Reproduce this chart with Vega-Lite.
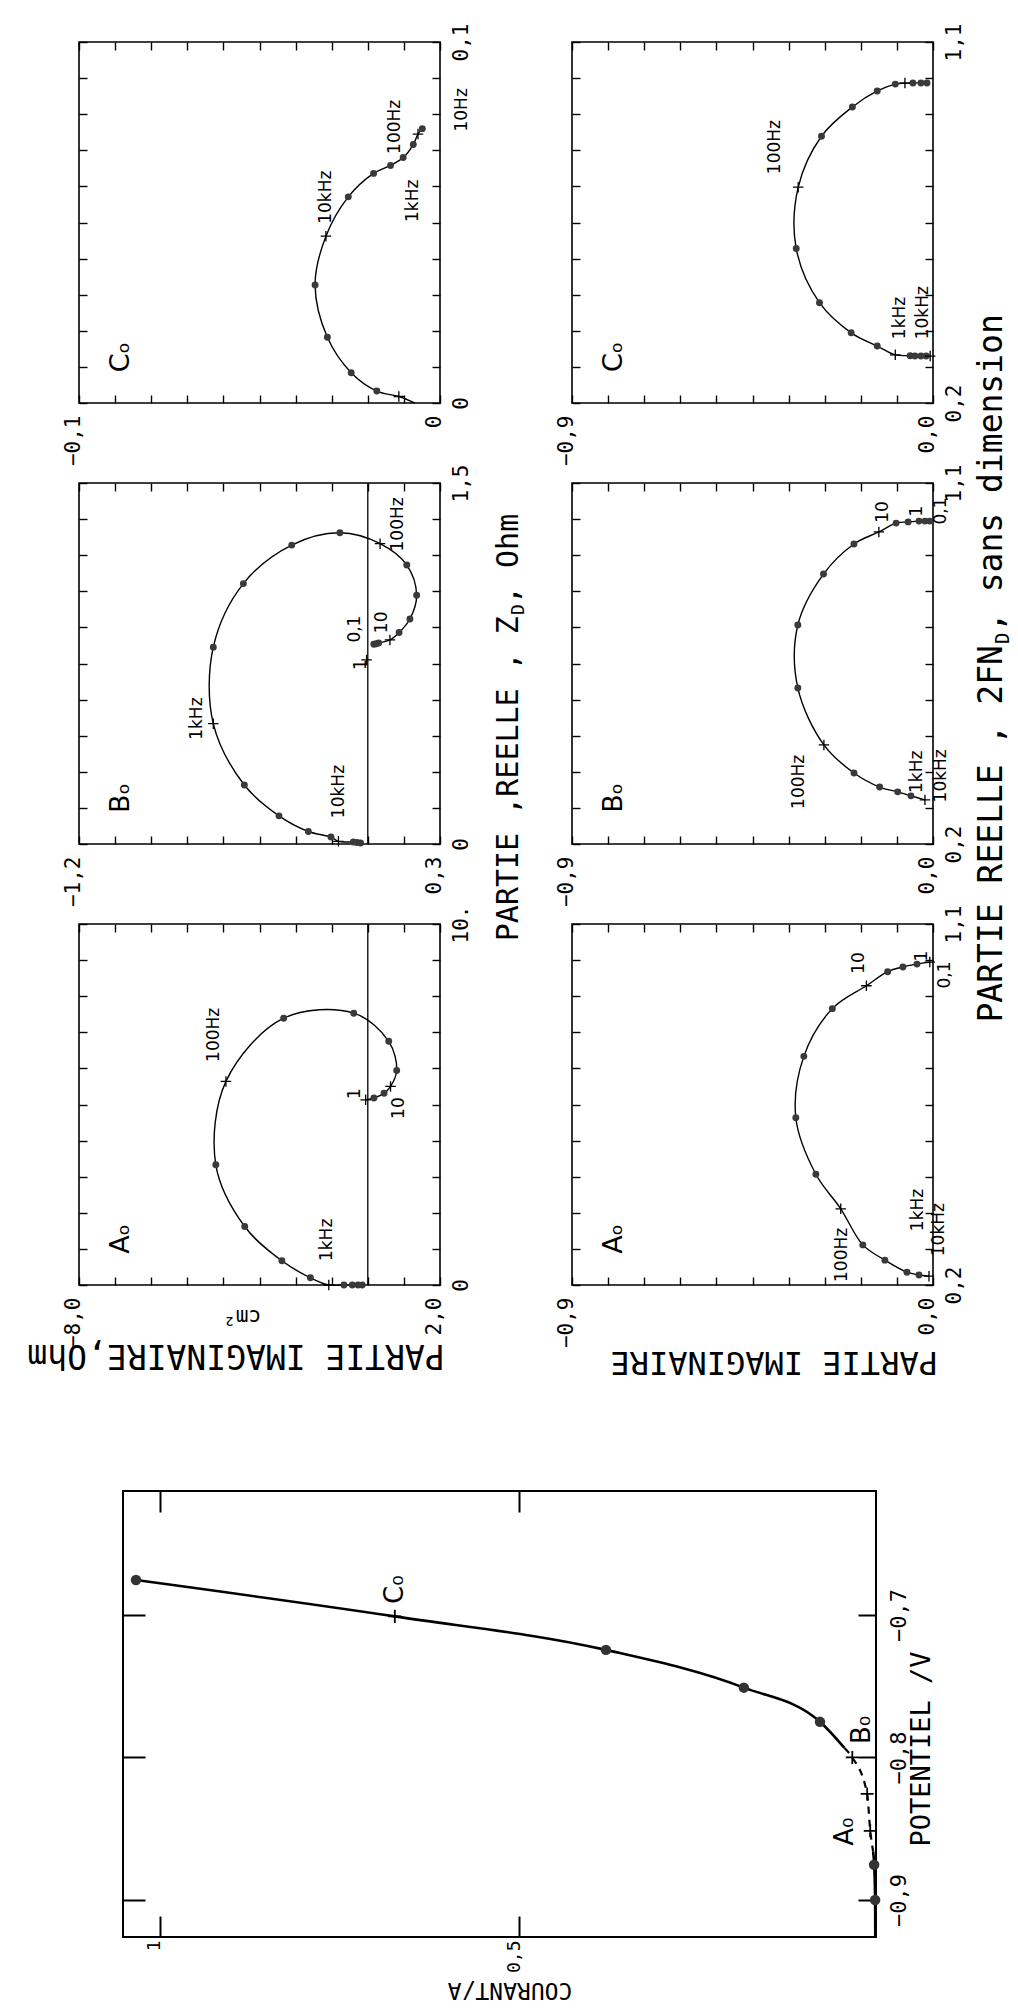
{
"$schema": "https://vega.github.io/schema/vega-lite/v6.json",
"background": "white",
"padding": {"left": 26, "top": 22, "right": 0, "bottom": 2},
"spacing": 109,
"config": {
  "view": {"stroke": "black", "strokeWidth": 1.6},
  "axis": {"domain": false, "grid": false, "tickColor": "black", "tickWidth": 1.4, "labelColor": "black", "labelFont": "DejaVu Sans Mono", "labelFontSize": 21, "labelOverlap": false, "labelFlush": false, "labelBound": false, "labelAngle": 270}
},
"datasets": {
"nyq": [
{"p":"LC","i":0,"im":-0.007,"re":0.0,"k":"none"},
{"p":"LC","i":1,"im":-0.0114,"re":0.0018,"k":"plus"},
{"p":"LC","i":2,"im":-0.0175,"re":0.0033,"k":"dot"},
{"p":"LC","i":3,"im":-0.0246,"re":0.0084,"k":"dot"},
{"p":"LC","i":4,"im":-0.0312,"re":0.0182,"k":"dot"},
{"p":"LC","i":5,"im":-0.0346,"re":0.0327,"k":"dot"},
{"p":"LC","i":6,"im":-0.0316,"re":0.0462,"k":"plus"},
{"p":"LC","i":7,"im":-0.0254,"re":0.0571,"k":"dot"},
{"p":"LC","i":8,"im":-0.0184,"re":0.0636,"k":"dot"},
{"p":"LC","i":9,"im":-0.0137,"re":0.0658,"k":"dot"},
{"p":"LC","i":10,"im":-0.0102,"re":0.068,"k":"dot"},
{"p":"LC","i":11,"im":-0.0074,"re":0.0716,"k":"dot"},
{"p":"LC","i":12,"im":-0.0061,"re":0.0745,"k":"plus"},
{"p":"LC","i":13,"im":-0.0049,"re":0.076,"k":"dot"},
{"p":"LB","i":0,"im":-0.03,"re":0.004,"k":"dot"},
{"p":"LB","i":1,"im":-0.045,"re":0.006,"k":"dot"},
{"p":"LB","i":2,"im":-0.06,"re":0.008,"k":"dot"},
{"p":"LB","i":3,"im":-0.122,"re":0.011,"k":"plus"},
{"p":"LB","i":4,"im":-0.153,"re":0.029,"k":"dot"},
{"p":"LB","i":5,"im":-0.247,"re":0.052,"k":"dot"},
{"p":"LB","i":6,"im":-0.369,"re":0.117,"k":"dot"},
{"p":"LB","i":7,"im":-0.513,"re":0.245,"k":"dot"},
{"p":"LB","i":8,"im":-0.642,"re":0.5,"k":"plus"},
{"p":"LB","i":9,"im":-0.642,"re":0.818,"k":"dot"},
{"p":"LB","i":10,"im":-0.517,"re":1.082,"k":"dot"},
{"p":"LB","i":11,"im":-0.316,"re":1.242,"k":"dot"},
{"p":"LB","i":12,"im":-0.116,"re":1.293,"k":"dot"},
{"p":"LB","i":13,"im":0.051,"re":1.248,"k":"plus"},
{"p":"LB","i":14,"im":0.162,"re":1.159,"k":"dot"},
{"p":"LB","i":15,"im":0.203,"re":1.034,"k":"dot"},
{"p":"LB","i":16,"im":0.175,"re":0.935,"k":"dot"},
{"p":"LB","i":17,"im":0.13,"re":0.879,"k":"dot"},
{"p":"LB","i":18,"im":0.092,"re":0.848,"k":"plus"},
{"p":"LB","i":19,"im":0.045,"re":0.835,"k":"dot"},
{"p":"LB","i":20,"im":0.035,"re":0.832,"k":"dot"},
{"p":"LB","i":21,"im":0.025,"re":0.83,"k":"dot"},
{"p":"LB","i":22,"im":-0.005,"re":0.765,"k":"mark"},
{"p":"LA","i":0,"im":-0.155,"re":0.0,"k":"dot"},
{"p":"LA","i":1,"im":-0.27,"re":0.0,"k":"dot"},
{"p":"LA","i":2,"im":-0.43,"re":0.0,"k":"dot"},
{"p":"LA","i":3,"im":-0.66,"re":0.0,"k":"dot"},
{"p":"LA","i":4,"im":-1.08,"re":0.0,"k":"plus"},
{"p":"LA","i":5,"im":-1.59,"re":0.2,"k":"dot"},
{"p":"LA","i":6,"im":-2.38,"re":0.67,"k":"dot"},
{"p":"LA","i":7,"im":-3.41,"re":1.62,"k":"dot"},
{"p":"LA","i":8,"im":-4.21,"re":3.33,"k":"dot"},
{"p":"LA","i":9,"im":-3.93,"re":5.64,"k":"plus"},
{"p":"LA","i":10,"im":-2.33,"re":7.39,"k":"dot"},
{"p":"LA","i":11,"im":-0.39,"re":7.53,"k":"dot"},
{"p":"LA","i":12,"im":0.58,"re":6.75,"k":"dot"},
{"p":"LA","i":13,"im":0.8,"re":5.94,"k":"dot"},
{"p":"LA","i":14,"im":0.63,"re":5.5,"k":"plus"},
{"p":"LA","i":15,"im":0.45,"re":5.31,"k":"dot"},
{"p":"LA","i":16,"im":0.17,"re":5.18,"k":"dot"},
{"p":"LA","i":17,"im":-0.06,"re":5.13,"k":"plus"},
{"p":"RC","i":0,"im":-0.007,"re":0.317,"k":"plus"},
{"p":"RC","i":1,"im":-0.017,"re":0.317,"k":"dot"},
{"p":"RC","i":2,"im":-0.03,"re":0.317,"k":"dot"},
{"p":"RC","i":3,"im":-0.045,"re":0.317,"k":"dot"},
{"p":"RC","i":4,"im":-0.057,"re":0.318,"k":"dot"},
{"p":"RC","i":5,"im":-0.094,"re":0.32,"k":"plus"},
{"p":"RC","i":6,"im":-0.139,"re":0.342,"k":"dot"},
{"p":"RC","i":7,"im":-0.204,"re":0.375,"k":"dot"},
{"p":"RC","i":8,"im":-0.283,"re":0.45,"k":"dot"},
{"p":"RC","i":9,"im":-0.341,"re":0.585,"k":"dot"},
{"p":"RC","i":10,"im":-0.336,"re":0.738,"k":"plus"},
{"p":"RC","i":11,"im":-0.278,"re":0.865,"k":"dot"},
{"p":"RC","i":12,"im":-0.201,"re":0.938,"k":"dot"},
{"p":"RC","i":13,"im":-0.139,"re":0.978,"k":"dot"},
{"p":"RC","i":14,"im":-0.094,"re":0.995,"k":"dot"},
{"p":"RC","i":15,"im":-0.07,"re":0.9975,"k":"plus"},
{"p":"RC","i":16,"im":-0.05,"re":0.998,"k":"dot"},
{"p":"RC","i":17,"im":-0.03,"re":0.998,"k":"dot"},
{"p":"RC","i":18,"im":-0.015,"re":0.998,"k":"dot"},
{"p":"RB","i":0,"im":-0.02,"re":0.31,"k":"plus"},
{"p":"RB","i":1,"im":-0.055,"re":0.32,"k":"dot"},
{"p":"RB","i":2,"im":-0.088,"re":0.33,"k":"dot"},
{"p":"RB","i":3,"im":-0.133,"re":0.342,"k":"dot"},
{"p":"RB","i":4,"im":-0.197,"re":0.377,"k":"dot"},
{"p":"RB","i":5,"im":-0.272,"re":0.447,"k":"plus"},
{"p":"RB","i":6,"im":-0.337,"re":0.589,"k":"dot"},
{"p":"RB","i":7,"im":-0.337,"re":0.746,"k":"dot"},
{"p":"RB","i":8,"im":-0.273,"re":0.873,"k":"dot"},
{"p":"RB","i":9,"im":-0.197,"re":0.948,"k":"dot"},
{"p":"RB","i":10,"im":-0.135,"re":0.978,"k":"plus"},
{"p":"RB","i":11,"im":-0.092,"re":1.0,"k":"dot"},
{"p":"RB","i":12,"im":-0.062,"re":1.003,"k":"dot"},
{"p":"RB","i":13,"im":-0.035,"re":1.005,"k":"dot"},
{"p":"RB","i":14,"im":-0.02,"re":1.005,"k":"dot"},
{"p":"RB","i":15,"im":-0.008,"re":1.005,"k":"dot"},
{"p":"RA","i":0,"im":-0.01,"re":0.222,"k":"plus"},
{"p":"RA","i":1,"im":-0.035,"re":0.225,"k":"dot"},
{"p":"RA","i":2,"im":-0.065,"re":0.232,"k":"dot"},
{"p":"RA","i":3,"im":-0.12,"re":0.262,"k":"dot"},
{"p":"RA","i":4,"im":-0.175,"re":0.3,"k":"dot"},
{"p":"RA","i":5,"im":-0.23,"re":0.39,"k":"plus"},
{"p":"RA","i":6,"im":-0.292,"re":0.476,"k":"dot"},
{"p":"RA","i":7,"im":-0.342,"re":0.617,"k":"dot"},
{"p":"RA","i":8,"im":-0.322,"re":0.77,"k":"dot"},
{"p":"RA","i":9,"im":-0.251,"re":0.889,"k":"dot"},
{"p":"RA","i":10,"im":-0.166,"re":0.946,"k":"plus"},
{"p":"RA","i":11,"im":-0.113,"re":0.981,"k":"dot"},
{"p":"RA","i":12,"im":-0.075,"re":0.993,"k":"dot"},
{"p":"RA","i":13,"im":-0.04,"re":1.0,"k":"dot"},
{"p":"RA","i":14,"im":-0.008,"re":1.005,"k":"plus"}
],
"lab": [
{"p":"LC","role":"freq","im":-0.0315,"re":0.057,"text":"10kHz"},
{"p":"LC","role":"freq","im":-0.0075,"re":0.056,"text":"1kHz"},
{"p":"LC","role":"freq","im":-0.0125,"re":0.0765,"text":"100Hz"},
{"p":"LC","role":"freq","im":0.0061,"re":0.0812,"text":"10Hz"},
{"p":"LC","role":"panel","im":-0.0884,"re":0.0127,"text":"Cₒ"},
{"p":"LB","role":"freq","im":-0.12,"re":0.218,"text":"10kHz"},
{"p":"LB","role":"freq","im":-0.711,"re":0.521,"text":"1kHz"},
{"p":"LB","role":"freq","im":0.127,"re":1.328,"text":"100Hz"},
{"p":"LB","role":"freq","im":0.058,"re":0.921,"text":"10"},
{"p":"LB","role":"freq","im":-0.053,"re":0.893,"text":"0,1"},
{"p":"LB","role":"freq","im":-0.027,"re":0.745,"text":"1"},
{"p":"LB","role":"panel","im":-1.0255,"re":0.191,"text":"Bₒ"},
{"p":"LA","role":"freq","im":-1.13,"re":1.25,"text":"1kHz"},
{"p":"LA","role":"freq","im":-4.27,"re":6.93,"text":"100Hz"},
{"p":"LA","role":"freq","im":0.86,"re":4.9,"text":"10"},
{"p":"LA","role":"freq","im":-0.36,"re":5.3,"text":"1"},
{"p":"LA","role":"panel","im":-6.837,"re":1.274,"text":"Aₒ"},
{"p":"RC","role":"freq","im":-0.393,"re":0.838,"text":"100Hz"},
{"p":"RC","role":"freq","im":-0.082,"re":0.412,"text":"1kHz"},
{"p":"RC","role":"freq","im":-0.025,"re":0.425,"text":"10kHz"},
{"p":"RC","role":"panel","im":-0.795,"re":0.315,"text":"Cₒ"},
{"p":"RB","role":"freq","im":-0.125,"re":1.028,"text":"10"},
{"p":"RB","role":"freq","im":-0.04,"re":1.03,"text":"1"},
{"p":"RB","role":"freq","im":0.02,"re":1.03,"text":"0,1"},
{"p":"RB","role":"freq","im":-0.334,"re":0.355,"text":"100Hz"},
{"p":"RB","role":"freq","im":-0.04,"re":0.38,"text":"1kHz"},
{"p":"RB","role":"freq","im":0.02,"re":0.37,"text":"10kHz"},
{"p":"RB","role":"panel","im":-0.795,"re":0.315,"text":"Bₒ"},
{"p":"RA","role":"freq","im":-0.184,"re":1.003,"text":"10"},
{"p":"RA","role":"freq","im":-0.028,"re":1.02,"text":"1"},
{"p":"RA","role":"freq","im":0.03,"re":0.973,"text":"0,1"},
{"p":"RA","role":"freq","im":-0.227,"re":0.275,"text":"100Hz"},
{"p":"RA","role":"freq","im":-0.038,"re":0.387,"text":"1kHz"},
{"p":"RA","role":"freq","im":0.015,"re":0.338,"text":"10kHz"},
{"p":"RA","role":"panel","im":-0.795,"re":0.315,"text":"Aₒ"}
],
"ttl": [
{"p":"LB","part":"main","im":0.587,"re":0.947,"text":"PARTIE ,REELLE , Z"},
{"p":"LB","part":"sub","im":0.587,"re":0.947,"text":"D"},
{"p":"LB","part":"tail","im":0.587,"re":0.947,"text":" , Ohm"},
{"p":"RB","part":"main","im":0.147,"re":0.696,"text":"PARTIE REELLE , 2FN"},
{"p":"RB","part":"sub","im":0.147,"re":0.696,"text":"D"},
{"p":"RB","part":"tail","im":0.147,"re":0.696,"text":", sans dimension"},
{"p":"LA","part":"flip","im":-3.65,"re":-1.94,"text":"PARTIE IMAGINAIRE,Ohm"},
{"p":"LA","part":"note","im":-3.48,"re":-0.86,"text":"cm²"},
{"p":"RA","part":"flip","im":-0.396,"re":0.008,"text":"PARTIE IMAGINAIRE"}
],
"iv": [
{"seg":"a","i":0,"cur":1.0334,"pot":-0.6755,"k":"dot"},
{"seg":"a","i":1,"cur":0.673,"pot":-0.701,"k":"plus"},
{"seg":"a","i":2,"cur":0.379,"pot":-0.7245,"k":"dot"},
{"seg":"a","i":3,"cur":0.187,"pot":-0.751,"k":"dot"},
{"seg":"a","i":4,"cur":0.081,"pot":-0.775,"k":"dot"},
{"seg":"a","i":5,"cur":0.047,"pot":-0.7933,"k":"none"},
{"seg":"b","i":6,"cur":0.047,"pot":-0.7933,"k":"none"},
{"seg":"b","i":7,"cur":0.036,"pot":-0.8,"k":"plus"},
{"seg":"b","i":8,"cur":0.0153,"pot":-0.8256,"k":"plus"},
{"seg":"b","i":9,"cur":0.011,"pot":-0.8515,"k":"plus"},
{"seg":"b","i":10,"cur":0.007,"pot":-0.866,"k":"none"},
{"seg":"c","i":11,"cur":0.007,"pot":-0.866,"k":"none"},
{"seg":"c","i":12,"cur":0.0056,"pot":-0.8753,"k":"dot"},
{"seg":"c","i":13,"cur":0.0042,"pot":-0.9,"k":"dot"},
{"seg":"c","i":14,"cur":0.004,"pot":-0.926,"k":"none"}
],
"ivlab": [
{"role":"pt","cur":0.673,"pot":-0.6923,"text":"C₀"},
{"role":"pt","cur":0.0224,"pot":-0.7906,"text":"B₀"},
{"role":"pt","cur":0.0461,"pot":-0.862,"text":"A₀"},
{"role":"ytitle","cur":-0.061,"pot":-0.794,"text":"POTENTIEL /V"},
{"role":"xtitle","cur":0.5126,"pot":-0.9635,"text":"COURANT/A"}
]
},
"vconcat": [
{"columns": 2, "bounds": "flush", "spacing": {"row": 80, "column": 132}, "concat": [
  {"width": 361, "height": 361,
   "resolve": {"axis": {"x": "independent", "y": "independent"}},
   "layer": [
    {"data": {"name": "nyq"}, "transform": [{"filter": "datum.p == 'LC' && datum.k != 'mark'"}],
     "mark": {"type": "line", "interpolate": "catmull-rom", "color": "black", "strokeWidth": 1.4},
     "encoding": {
      "x": {"field": "im", "type": "quantitative", "scale": {"domain": [-0.1, 0], "nice": false, "zero": false},
            "axis": {"orient": "bottom", "title": null, "values": [-0.1,-0.09,-0.08,-0.07,-0.06,-0.05,-0.04,-0.03,-0.02,-0.01,0], "tickSize": -8, "labelAlign": "right", "labelBaseline": "alphabetic", "labelPadding": 20, "labelExpr": "abs(datum.value + 0.1) < 1e-6 || abs(datum.value) < 1e-6 ? replace(format(datum.value, '.1~f'), '.', ',') : ''"}},
      "y": {"field": "re", "type": "quantitative", "scale": {"domain": [0, 0.1], "nice": false, "zero": false},
            "axis": {"orient": "right", "title": null, "values": [0,0.01,0.02,0.03,0.04,0.05,0.06,0.07,0.08,0.09,0.1], "tickSize": -8, "labelAlign": "center", "labelBaseline": "top", "labelPadding": 18, "labelExpr": "abs(datum.value - 0.1) < 1e-6 || abs(datum.value) < 1e-6 ? replace(format(datum.value, '.1~f'), '.', ',') : ''"}},
      "order": {"field": "i", "type": "quantitative"}}},
    {"data": {"name": "nyq"}, "transform": [{"filter": "datum.p == 'LC' && datum.k == 'dot'"}],
     "mark": {"type": "circle", "size": 48, "color": "#3a3a3a", "opacity": 1},
     "encoding": {
      "x": {"field": "im", "type": "quantitative", "scale": {"domain": [-0.1, 0], "nice": false, "zero": false},
            "axis": {"orient": "top", "title": null, "values": [-0.1,-0.09,-0.08,-0.07,-0.06,-0.05,-0.04,-0.03,-0.02,-0.01,0], "tickSize": -8, "labels": false}},
      "y": {"field": "re", "type": "quantitative", "scale": {"domain": [0, 0.1], "nice": false, "zero": false},
            "axis": {"orient": "left", "title": null, "values": [0,0.01,0.02,0.03,0.04,0.05,0.06,0.07,0.08,0.09,0.1], "tickSize": -8, "labels": false}}}},
    {"data": {"name": "nyq"}, "transform": [{"filter": "datum.p == 'LC' && (datum.k == 'plus' || datum.k == 'mark')"}],
     "mark": {"type": "point", "shape": "M-1,0L1,0M0,-1L0,1", "size": 110, "filled": false, "stroke": "black", "strokeWidth": 1.3, "opacity": 1},
     "encoding": {
      "x": {"field": "im", "type": "quantitative", "scale": {"domain": [-0.1, 0], "nice": false, "zero": false}, "axis": null},
      "y": {"field": "re", "type": "quantitative", "scale": {"domain": [0, 0.1], "nice": false, "zero": false}, "axis": null}}},
    {"data": {"name": "lab"}, "transform": [{"filter": "datum.p == 'LC' && datum.role == 'freq'"}],
     "mark": {"type": "text", "angle": 270, "align": "center", "baseline": "middle", "fontSize": 17, "font": "DejaVu Sans", "color": "black"},
     "encoding": {
      "x": {"field": "im", "type": "quantitative", "scale": {"domain": [-0.1, 0], "nice": false, "zero": false}, "axis": null},
      "y": {"field": "re", "type": "quantitative", "scale": {"domain": [0, 0.1], "nice": false, "zero": false}, "axis": null},
      "text": {"field": "text"}}},
    {"data": {"name": "lab"}, "transform": [{"filter": "datum.p == 'LC' && datum.role == 'panel'"}],
     "mark": {"type": "text", "angle": 270, "align": "center", "baseline": "middle", "fontSize": 27, "font": "DejaVu Sans", "color": "black"},
     "encoding": {
      "x": {"field": "im", "type": "quantitative", "scale": {"domain": [-0.1, 0], "nice": false, "zero": false}, "axis": null},
      "y": {"field": "re", "type": "quantitative", "scale": {"domain": [0, 0.1], "nice": false, "zero": false}, "axis": null},
      "text": {"field": "text"}}}
   ]},
  {"width": 361, "height": 361,
   "resolve": {"axis": {"x": "independent", "y": "independent"}},
   "layer": [
    {"data": {"name": "nyq"}, "transform": [{"filter": "datum.p == 'RC' && datum.k != 'mark'"}],
     "mark": {"type": "line", "interpolate": "catmull-rom", "color": "black", "strokeWidth": 1.4},
     "encoding": {
      "x": {"field": "im", "type": "quantitative", "scale": {"domain": [-0.9, 0], "nice": false, "zero": false},
            "axis": {"orient": "bottom", "title": null, "values": [-0.9,-0.81,-0.72,-0.63,-0.54,-0.45,-0.36,-0.27,-0.18,-0.09,0], "tickSize": -8, "labelAlign": "right", "labelBaseline": "alphabetic", "labelPadding": 20, "labelExpr": "abs(datum.value + 0.9) < 1e-6 || abs(datum.value) < 1e-6 ? replace(format(datum.value, '.1f'), '.', ',') : ''"}},
      "y": {"field": "re", "type": "quantitative", "scale": {"domain": [0.2, 1.1], "nice": false, "zero": false},
            "axis": {"orient": "right", "title": null, "values": [0.2,0.29,0.38,0.47,0.56,0.65,0.74,0.83,0.92,1.01,1.1], "tickSize": -8, "labelAlign": "center", "labelBaseline": "top", "labelPadding": 18, "labelExpr": "abs(datum.value - 0.2) < 1e-6 || abs(datum.value - 1.1) < 1e-6 ? replace(format(datum.value, '.1f'), '.', ',') : ''"}},
      "order": {"field": "i", "type": "quantitative"}}},
    {"data": {"name": "nyq"}, "transform": [{"filter": "datum.p == 'RC' && datum.k == 'dot'"}],
     "mark": {"type": "circle", "size": 48, "color": "#3a3a3a", "opacity": 1},
     "encoding": {
      "x": {"field": "im", "type": "quantitative", "scale": {"domain": [-0.9, 0], "nice": false, "zero": false},
            "axis": {"orient": "top", "title": null, "values": [-0.9,-0.81,-0.72,-0.63,-0.54,-0.45,-0.36,-0.27,-0.18,-0.09,0], "tickSize": -8, "labels": false}},
      "y": {"field": "re", "type": "quantitative", "scale": {"domain": [0.2, 1.1], "nice": false, "zero": false},
            "axis": {"orient": "left", "title": null, "values": [0.2,0.29,0.38,0.47,0.56,0.65,0.74,0.83,0.92,1.01,1.1], "tickSize": -8, "labels": false}}}},
    {"data": {"name": "nyq"}, "transform": [{"filter": "datum.p == 'RC' && (datum.k == 'plus' || datum.k == 'mark')"}],
     "mark": {"type": "point", "shape": "M-1,0L1,0M0,-1L0,1", "size": 110, "filled": false, "stroke": "black", "strokeWidth": 1.3, "opacity": 1},
     "encoding": {
      "x": {"field": "im", "type": "quantitative", "scale": {"domain": [-0.9, 0], "nice": false, "zero": false}, "axis": null},
      "y": {"field": "re", "type": "quantitative", "scale": {"domain": [0.2, 1.1], "nice": false, "zero": false}, "axis": null}}},
    {"data": {"name": "lab"}, "transform": [{"filter": "datum.p == 'RC' && datum.role == 'freq'"}],
     "mark": {"type": "text", "angle": 270, "align": "center", "baseline": "middle", "fontSize": 17, "font": "DejaVu Sans", "color": "black"},
     "encoding": {
      "x": {"field": "im", "type": "quantitative", "scale": {"domain": [-0.9, 0], "nice": false, "zero": false}, "axis": null},
      "y": {"field": "re", "type": "quantitative", "scale": {"domain": [0.2, 1.1], "nice": false, "zero": false}, "axis": null},
      "text": {"field": "text"}}},
    {"data": {"name": "lab"}, "transform": [{"filter": "datum.p == 'RC' && datum.role == 'panel'"}],
     "mark": {"type": "text", "angle": 270, "align": "center", "baseline": "middle", "fontSize": 27, "font": "DejaVu Sans", "color": "black"},
     "encoding": {
      "x": {"field": "im", "type": "quantitative", "scale": {"domain": [-0.9, 0], "nice": false, "zero": false}, "axis": null},
      "y": {"field": "re", "type": "quantitative", "scale": {"domain": [0.2, 1.1], "nice": false, "zero": false}, "axis": null},
      "text": {"field": "text"}}}
   ]},
  {"width": 361, "height": 361,
   "resolve": {"axis": {"x": "independent", "y": "independent"}},
   "layer": [
    {"data": {"name": "nyq"}, "transform": [{"filter": "datum.p == 'LB' && datum.k != 'mark'"}],
     "mark": {"type": "line", "interpolate": "catmull-rom", "color": "black", "strokeWidth": 1.4},
     "encoding": {
      "x": {"field": "im", "type": "quantitative", "scale": {"domain": [-1.2, 0.3], "nice": false, "zero": false},
            "axis": {"orient": "bottom", "title": null, "values": [-1.2,-1.05,-0.9,-0.75,-0.6,-0.45,-0.3,-0.15,0,0.15,0.3], "tickSize": -8, "labelAlign": "right", "labelBaseline": "alphabetic", "labelPadding": 20, "labelExpr": "abs(datum.value + 1.2) < 1e-6 || abs(datum.value - 0.3) < 1e-6 ? replace(format(datum.value, '.1~f'), '.', ',') : ''"}},
      "y": {"field": "re", "type": "quantitative", "scale": {"domain": [0, 1.5], "nice": false, "zero": false},
            "axis": {"orient": "right", "title": null, "values": [0,0.15,0.3,0.45,0.6,0.75,0.9,1.05,1.2,1.35,1.5], "tickSize": -8, "labelAlign": "center", "labelBaseline": "top", "labelPadding": 18, "labelExpr": "abs(datum.value - 1.5) < 1e-6 || abs(datum.value) < 1e-6 ? replace(format(datum.value, '.1~f'), '.', ',') : ''"}},
      "order": {"field": "i", "type": "quantitative"}}},
    {"data": {"name": "nyq"}, "transform": [{"filter": "datum.p == 'LB' && datum.k == 'dot'"}],
     "mark": {"type": "circle", "size": 48, "color": "#3a3a3a", "opacity": 1},
     "encoding": {
      "x": {"field": "im", "type": "quantitative", "scale": {"domain": [-1.2, 0.3], "nice": false, "zero": false},
            "axis": {"orient": "top", "title": null, "values": [-1.2,-1.05,-0.9,-0.75,-0.6,-0.45,-0.3,-0.15,0,0.15,0.3], "tickSize": -8, "labels": false}},
      "y": {"field": "re", "type": "quantitative", "scale": {"domain": [0, 1.5], "nice": false, "zero": false},
            "axis": {"orient": "left", "title": null, "values": [0,0.15,0.3,0.45,0.6,0.75,0.9,1.05,1.2,1.35,1.5], "tickSize": -8, "labels": false}}}},
    {"data": {"values": [{"im": 0}]},
     "mark": {"type": "rule", "color": "black", "strokeWidth": 1.3},
     "encoding": {
      "x": {"field": "im", "type": "quantitative", "scale": {"domain": [-1.2, 0.3], "nice": false, "zero": false}, "axis": null}}},
    {"data": {"name": "nyq"}, "transform": [{"filter": "datum.p == 'LB' && (datum.k == 'plus' || datum.k == 'mark')"}],
     "mark": {"type": "point", "shape": "M-1,0L1,0M0,-1L0,1", "size": 110, "filled": false, "stroke": "black", "strokeWidth": 1.3, "opacity": 1},
     "encoding": {
      "x": {"field": "im", "type": "quantitative", "scale": {"domain": [-1.2, 0.3], "nice": false, "zero": false}, "axis": null},
      "y": {"field": "re", "type": "quantitative", "scale": {"domain": [0, 1.5], "nice": false, "zero": false}, "axis": null}}},
    {"data": {"name": "lab"}, "transform": [{"filter": "datum.p == 'LB' && datum.role == 'freq'"}],
     "mark": {"type": "text", "angle": 270, "align": "center", "baseline": "middle", "fontSize": 17, "font": "DejaVu Sans", "color": "black"},
     "encoding": {
      "x": {"field": "im", "type": "quantitative", "scale": {"domain": [-1.2, 0.3], "nice": false, "zero": false}, "axis": null},
      "y": {"field": "re", "type": "quantitative", "scale": {"domain": [0, 1.5], "nice": false, "zero": false}, "axis": null},
      "text": {"field": "text"}}},
    {"data": {"name": "lab"}, "transform": [{"filter": "datum.p == 'LB' && datum.role == 'panel'"}],
     "mark": {"type": "text", "angle": 270, "align": "center", "baseline": "middle", "fontSize": 27, "font": "DejaVu Sans", "color": "black"},
     "encoding": {
      "x": {"field": "im", "type": "quantitative", "scale": {"domain": [-1.2, 0.3], "nice": false, "zero": false}, "axis": null},
      "y": {"field": "re", "type": "quantitative", "scale": {"domain": [0, 1.5], "nice": false, "zero": false}, "axis": null},
      "text": {"field": "text"}}},
    {"data": {"name": "ttl"}, "transform": [{"filter": "datum.p == 'LB' && datum.part == 'main'"}],
     "mark": {"type": "text", "angle": 270, "align": "right", "baseline": "middle", "fontSize": 30, "font": "DejaVu Sans Mono", "color": "black"},
     "encoding": {
      "x": {"field": "im", "type": "quantitative", "scale": {"domain": [-1.2, 0.3], "nice": false, "zero": false}, "axis": null},
      "y": {"field": "re", "type": "quantitative", "scale": {"domain": [0, 1.5], "nice": false, "zero": false}, "axis": null},
      "text": {"field": "text"}}},
    {"data": {"name": "ttl"}, "transform": [{"filter": "datum.p == 'LB' && datum.part == 'sub'"}],
     "mark": {"type": "text", "angle": 270, "align": "left", "baseline": "middle", "fontSize": 18, "font": "DejaVu Sans Mono", "color": "black", "dx": 1, "dy": 10},
     "encoding": {
      "x": {"field": "im", "type": "quantitative", "scale": {"domain": [-1.2, 0.3], "nice": false, "zero": false}, "axis": null},
      "y": {"field": "re", "type": "quantitative", "scale": {"domain": [0, 1.5], "nice": false, "zero": false}, "axis": null},
      "text": {"field": "text"}}},
    {"data": {"name": "ttl"}, "transform": [{"filter": "datum.p == 'LB' && datum.part == 'tail'"}],
     "mark": {"type": "text", "angle": 270, "align": "left", "baseline": "middle", "fontSize": 30, "font": "DejaVu Sans Mono", "color": "black", "dx": 12},
     "encoding": {
      "x": {"field": "im", "type": "quantitative", "scale": {"domain": [-1.2, 0.3], "nice": false, "zero": false}, "axis": null},
      "y": {"field": "re", "type": "quantitative", "scale": {"domain": [0, 1.5], "nice": false, "zero": false}, "axis": null},
      "text": {"field": "text"}}}
   ]},
  {"width": 361, "height": 361,
   "resolve": {"axis": {"x": "independent", "y": "independent"}},
   "layer": [
    {"data": {"name": "nyq"}, "transform": [{"filter": "datum.p == 'RB' && datum.k != 'mark'"}],
     "mark": {"type": "line", "interpolate": "catmull-rom", "color": "black", "strokeWidth": 1.4},
     "encoding": {
      "x": {"field": "im", "type": "quantitative", "scale": {"domain": [-0.9, 0], "nice": false, "zero": false},
            "axis": {"orient": "bottom", "title": null, "values": [-0.9,-0.81,-0.72,-0.63,-0.54,-0.45,-0.36,-0.27,-0.18,-0.09,0], "tickSize": -8, "labelAlign": "right", "labelBaseline": "alphabetic", "labelPadding": 20, "labelExpr": "abs(datum.value + 0.9) < 1e-6 || abs(datum.value) < 1e-6 ? replace(format(datum.value, '.1f'), '.', ',') : ''"}},
      "y": {"field": "re", "type": "quantitative", "scale": {"domain": [0.2, 1.1], "nice": false, "zero": false},
            "axis": {"orient": "right", "title": null, "values": [0.2,0.29,0.38,0.47,0.56,0.65,0.74,0.83,0.92,1.01,1.1], "tickSize": -8, "labelAlign": "center", "labelBaseline": "top", "labelPadding": 18, "labelExpr": "abs(datum.value - 0.2) < 1e-6 || abs(datum.value - 1.1) < 1e-6 ? replace(format(datum.value, '.1f'), '.', ',') : ''"}},
      "order": {"field": "i", "type": "quantitative"}}},
    {"data": {"name": "nyq"}, "transform": [{"filter": "datum.p == 'RB' && datum.k == 'dot'"}],
     "mark": {"type": "circle", "size": 48, "color": "#3a3a3a", "opacity": 1},
     "encoding": {
      "x": {"field": "im", "type": "quantitative", "scale": {"domain": [-0.9, 0], "nice": false, "zero": false},
            "axis": {"orient": "top", "title": null, "values": [-0.9,-0.81,-0.72,-0.63,-0.54,-0.45,-0.36,-0.27,-0.18,-0.09,0], "tickSize": -8, "labels": false}},
      "y": {"field": "re", "type": "quantitative", "scale": {"domain": [0.2, 1.1], "nice": false, "zero": false},
            "axis": {"orient": "left", "title": null, "values": [0.2,0.29,0.38,0.47,0.56,0.65,0.74,0.83,0.92,1.01,1.1], "tickSize": -8, "labels": false}}}},
    {"data": {"name": "nyq"}, "transform": [{"filter": "datum.p == 'RB' && (datum.k == 'plus' || datum.k == 'mark')"}],
     "mark": {"type": "point", "shape": "M-1,0L1,0M0,-1L0,1", "size": 110, "filled": false, "stroke": "black", "strokeWidth": 1.3, "opacity": 1},
     "encoding": {
      "x": {"field": "im", "type": "quantitative", "scale": {"domain": [-0.9, 0], "nice": false, "zero": false}, "axis": null},
      "y": {"field": "re", "type": "quantitative", "scale": {"domain": [0.2, 1.1], "nice": false, "zero": false}, "axis": null}}},
    {"data": {"name": "lab"}, "transform": [{"filter": "datum.p == 'RB' && datum.role == 'freq'"}],
     "mark": {"type": "text", "angle": 270, "align": "center", "baseline": "middle", "fontSize": 17, "font": "DejaVu Sans", "color": "black"},
     "encoding": {
      "x": {"field": "im", "type": "quantitative", "scale": {"domain": [-0.9, 0], "nice": false, "zero": false}, "axis": null},
      "y": {"field": "re", "type": "quantitative", "scale": {"domain": [0.2, 1.1], "nice": false, "zero": false}, "axis": null},
      "text": {"field": "text"}}},
    {"data": {"name": "lab"}, "transform": [{"filter": "datum.p == 'RB' && datum.role == 'panel'"}],
     "mark": {"type": "text", "angle": 270, "align": "center", "baseline": "middle", "fontSize": 27, "font": "DejaVu Sans", "color": "black"},
     "encoding": {
      "x": {"field": "im", "type": "quantitative", "scale": {"domain": [-0.9, 0], "nice": false, "zero": false}, "axis": null},
      "y": {"field": "re", "type": "quantitative", "scale": {"domain": [0.2, 1.1], "nice": false, "zero": false}, "axis": null},
      "text": {"field": "text"}}},
    {"data": {"name": "ttl"}, "transform": [{"filter": "datum.p == 'RB' && datum.part == 'main'"}],
     "mark": {"type": "text", "angle": 270, "align": "right", "baseline": "middle", "fontSize": 33, "font": "DejaVu Sans Mono", "color": "black"},
     "encoding": {
      "x": {"field": "im", "type": "quantitative", "scale": {"domain": [-0.9, 0], "nice": false, "zero": false}, "axis": null},
      "y": {"field": "re", "type": "quantitative", "scale": {"domain": [0.2, 1.1], "nice": false, "zero": false}, "axis": null},
      "text": {"field": "text"}}},
    {"data": {"name": "ttl"}, "transform": [{"filter": "datum.p == 'RB' && datum.part == 'sub'"}],
     "mark": {"type": "text", "angle": 270, "align": "left", "baseline": "middle", "fontSize": 19, "font": "DejaVu Sans Mono", "color": "black", "dx": 1, "dy": 11},
     "encoding": {
      "x": {"field": "im", "type": "quantitative", "scale": {"domain": [-0.9, 0], "nice": false, "zero": false}, "axis": null},
      "y": {"field": "re", "type": "quantitative", "scale": {"domain": [0.2, 1.1], "nice": false, "zero": false}, "axis": null},
      "text": {"field": "text"}}},
    {"data": {"name": "ttl"}, "transform": [{"filter": "datum.p == 'RB' && datum.part == 'tail'"}],
     "mark": {"type": "text", "angle": 270, "align": "left", "baseline": "middle", "fontSize": 33, "font": "DejaVu Sans Mono", "color": "black", "dx": 13},
     "encoding": {
      "x": {"field": "im", "type": "quantitative", "scale": {"domain": [-0.9, 0], "nice": false, "zero": false}, "axis": null},
      "y": {"field": "re", "type": "quantitative", "scale": {"domain": [0.2, 1.1], "nice": false, "zero": false}, "axis": null},
      "text": {"field": "text"}}}
   ]},
  {"width": 361, "height": 361,
   "resolve": {"axis": {"x": "independent", "y": "independent"}},
   "layer": [
    {"data": {"name": "nyq"}, "transform": [{"filter": "datum.p == 'LA' && datum.k != 'mark'"}],
     "mark": {"type": "line", "interpolate": "catmull-rom", "color": "black", "strokeWidth": 1.4},
     "encoding": {
      "x": {"field": "im", "type": "quantitative", "scale": {"domain": [-8, 2], "nice": false, "zero": false},
            "axis": {"orient": "bottom", "title": null, "values": [-8,-7,-6,-5,-4,-3,-2,-1,0,1,2], "tickSize": -8, "labelAlign": "right", "labelBaseline": "alphabetic", "labelPadding": 20, "labelExpr": "abs(datum.value + 8) < 1e-6 || abs(datum.value - 2) < 1e-6 ? replace(format(datum.value, '.1f'), '.', ',') : ''"}},
      "y": {"field": "re", "type": "quantitative", "scale": {"domain": [0, 10], "nice": false, "zero": false},
            "axis": {"orient": "right", "title": null, "values": [0,1,2,3,4,5,6,7,8,9,10], "tickSize": -8, "labelAlign": "center", "labelBaseline": "top", "labelPadding": 18, "labelExpr": "datum.value < 0.5 ? '0' : (datum.value > 9.5 ? '10.' : '')"}},
      "order": {"field": "i", "type": "quantitative"}}},
    {"data": {"name": "nyq"}, "transform": [{"filter": "datum.p == 'LA' && datum.k == 'dot'"}],
     "mark": {"type": "circle", "size": 48, "color": "#3a3a3a", "opacity": 1},
     "encoding": {
      "x": {"field": "im", "type": "quantitative", "scale": {"domain": [-8, 2], "nice": false, "zero": false},
            "axis": {"orient": "top", "title": null, "values": [-8,-7,-6,-5,-4,-3,-2,-1,0,1,2], "tickSize": -8, "labels": false}},
      "y": {"field": "re", "type": "quantitative", "scale": {"domain": [0, 10], "nice": false, "zero": false},
            "axis": {"orient": "left", "title": null, "values": [0,1,2,3,4,5,6,7,8,9,10], "tickSize": -8, "labels": false}}}},
    {"data": {"values": [{"im": 0}]},
     "mark": {"type": "rule", "color": "black", "strokeWidth": 1.3},
     "encoding": {
      "x": {"field": "im", "type": "quantitative", "scale": {"domain": [-8, 2], "nice": false, "zero": false}, "axis": null}}},
    {"data": {"name": "nyq"}, "transform": [{"filter": "datum.p == 'LA' && (datum.k == 'plus' || datum.k == 'mark')"}],
     "mark": {"type": "point", "shape": "M-1,0L1,0M0,-1L0,1", "size": 110, "filled": false, "stroke": "black", "strokeWidth": 1.3, "opacity": 1},
     "encoding": {
      "x": {"field": "im", "type": "quantitative", "scale": {"domain": [-8, 2], "nice": false, "zero": false}, "axis": null},
      "y": {"field": "re", "type": "quantitative", "scale": {"domain": [0, 10], "nice": false, "zero": false}, "axis": null}}},
    {"data": {"name": "lab"}, "transform": [{"filter": "datum.p == 'LA' && datum.role == 'freq'"}],
     "mark": {"type": "text", "angle": 270, "align": "center", "baseline": "middle", "fontSize": 17, "font": "DejaVu Sans", "color": "black"},
     "encoding": {
      "x": {"field": "im", "type": "quantitative", "scale": {"domain": [-8, 2], "nice": false, "zero": false}, "axis": null},
      "y": {"field": "re", "type": "quantitative", "scale": {"domain": [0, 10], "nice": false, "zero": false}, "axis": null},
      "text": {"field": "text"}}},
    {"data": {"name": "lab"}, "transform": [{"filter": "datum.p == 'LA' && datum.role == 'panel'"}],
     "mark": {"type": "text", "angle": 270, "align": "center", "baseline": "middle", "fontSize": 27, "font": "DejaVu Sans", "color": "black"},
     "encoding": {
      "x": {"field": "im", "type": "quantitative", "scale": {"domain": [-8, 2], "nice": false, "zero": false}, "axis": null},
      "y": {"field": "re", "type": "quantitative", "scale": {"domain": [0, 10], "nice": false, "zero": false}, "axis": null},
      "text": {"field": "text"}}},
    {"data": {"name": "ttl"}, "transform": [{"filter": "datum.p == 'LA' && datum.part == 'flip'"}],
     "mark": {"type": "text", "angle": 180, "align": "center", "baseline": "middle", "fontSize": 33, "font": "DejaVu Sans Mono", "color": "black"},
     "encoding": {
      "x": {"field": "im", "type": "quantitative", "scale": {"domain": [-8, 2], "nice": false, "zero": false}, "axis": null},
      "y": {"field": "re", "type": "quantitative", "scale": {"domain": [0, 10], "nice": false, "zero": false}, "axis": null},
      "text": {"field": "text"}}},
    {"data": {"name": "ttl"}, "transform": [{"filter": "datum.p == 'LA' && datum.part == 'note'"}],
     "mark": {"type": "text", "angle": 180, "align": "center", "baseline": "middle", "fontSize": 21, "font": "DejaVu Sans Mono", "color": "black"},
     "encoding": {
      "x": {"field": "im", "type": "quantitative", "scale": {"domain": [-8, 2], "nice": false, "zero": false}, "axis": null},
      "y": {"field": "re", "type": "quantitative", "scale": {"domain": [0, 10], "nice": false, "zero": false}, "axis": null},
      "text": {"field": "text"}}}
   ]},
  {"width": 361, "height": 361,
   "resolve": {"axis": {"x": "independent", "y": "independent"}},
   "layer": [
    {"data": {"name": "nyq"}, "transform": [{"filter": "datum.p == 'RA' && datum.k != 'mark'"}],
     "mark": {"type": "line", "interpolate": "catmull-rom", "color": "black", "strokeWidth": 1.4},
     "encoding": {
      "x": {"field": "im", "type": "quantitative", "scale": {"domain": [-0.9, 0], "nice": false, "zero": false},
            "axis": {"orient": "bottom", "title": null, "values": [-0.9,-0.81,-0.72,-0.63,-0.54,-0.45,-0.36,-0.27,-0.18,-0.09,0], "tickSize": -8, "labelAlign": "right", "labelBaseline": "alphabetic", "labelPadding": 20, "labelExpr": "abs(datum.value + 0.9) < 1e-6 || abs(datum.value) < 1e-6 ? replace(format(datum.value, '.1f'), '.', ',') : ''"}},
      "y": {"field": "re", "type": "quantitative", "scale": {"domain": [0.2, 1.1], "nice": false, "zero": false},
            "axis": {"orient": "right", "title": null, "values": [0.2,0.29,0.38,0.47,0.56,0.65,0.74,0.83,0.92,1.01,1.1], "tickSize": -8, "labelAlign": "center", "labelBaseline": "top", "labelPadding": 18, "labelExpr": "abs(datum.value - 0.2) < 1e-6 || abs(datum.value - 1.1) < 1e-6 ? replace(format(datum.value, '.1f'), '.', ',') : ''"}},
      "order": {"field": "i", "type": "quantitative"}}},
    {"data": {"name": "nyq"}, "transform": [{"filter": "datum.p == 'RA' && datum.k == 'dot'"}],
     "mark": {"type": "circle", "size": 48, "color": "#3a3a3a", "opacity": 1},
     "encoding": {
      "x": {"field": "im", "type": "quantitative", "scale": {"domain": [-0.9, 0], "nice": false, "zero": false},
            "axis": {"orient": "top", "title": null, "values": [-0.9,-0.81,-0.72,-0.63,-0.54,-0.45,-0.36,-0.27,-0.18,-0.09,0], "tickSize": -8, "labels": false}},
      "y": {"field": "re", "type": "quantitative", "scale": {"domain": [0.2, 1.1], "nice": false, "zero": false},
            "axis": {"orient": "left", "title": null, "values": [0.2,0.29,0.38,0.47,0.56,0.65,0.74,0.83,0.92,1.01,1.1], "tickSize": -8, "labels": false}}}},
    {"data": {"name": "nyq"}, "transform": [{"filter": "datum.p == 'RA' && (datum.k == 'plus' || datum.k == 'mark')"}],
     "mark": {"type": "point", "shape": "M-1,0L1,0M0,-1L0,1", "size": 110, "filled": false, "stroke": "black", "strokeWidth": 1.3, "opacity": 1},
     "encoding": {
      "x": {"field": "im", "type": "quantitative", "scale": {"domain": [-0.9, 0], "nice": false, "zero": false}, "axis": null},
      "y": {"field": "re", "type": "quantitative", "scale": {"domain": [0.2, 1.1], "nice": false, "zero": false}, "axis": null}}},
    {"data": {"name": "lab"}, "transform": [{"filter": "datum.p == 'RA' && datum.role == 'freq'"}],
     "mark": {"type": "text", "angle": 270, "align": "center", "baseline": "middle", "fontSize": 17, "font": "DejaVu Sans", "color": "black"},
     "encoding": {
      "x": {"field": "im", "type": "quantitative", "scale": {"domain": [-0.9, 0], "nice": false, "zero": false}, "axis": null},
      "y": {"field": "re", "type": "quantitative", "scale": {"domain": [0.2, 1.1], "nice": false, "zero": false}, "axis": null},
      "text": {"field": "text"}}},
    {"data": {"name": "lab"}, "transform": [{"filter": "datum.p == 'RA' && datum.role == 'panel'"}],
     "mark": {"type": "text", "angle": 270, "align": "center", "baseline": "middle", "fontSize": 27, "font": "DejaVu Sans", "color": "black"},
     "encoding": {
      "x": {"field": "im", "type": "quantitative", "scale": {"domain": [-0.9, 0], "nice": false, "zero": false}, "axis": null},
      "y": {"field": "re", "type": "quantitative", "scale": {"domain": [0.2, 1.1], "nice": false, "zero": false}, "axis": null},
      "text": {"field": "text"}}},
    {"data": {"name": "ttl"}, "transform": [{"filter": "datum.p == 'RA' && datum.part == 'flip'"}],
     "mark": {"type": "text", "angle": 180, "align": "center", "baseline": "middle", "fontSize": 32, "font": "DejaVu Sans Mono", "color": "black"},
     "encoding": {
      "x": {"field": "im", "type": "quantitative", "scale": {"domain": [-0.9, 0], "nice": false, "zero": false}, "axis": null},
      "y": {"field": "re", "type": "quantitative", "scale": {"domain": [0.2, 1.1], "nice": false, "zero": false}, "axis": null},
      "text": {"field": "text"}}}
   ]}
]},
{"bounds": "flush", "spacing": 43, "hconcat": [
 {"width": 1, "height": 1, "view": {"stroke": null}, "data": {"values": [{"v": 0}]}, "mark": {"type": "point", "opacity": 0}, "encoding": {}},
 {"width": 753, "height": 446,
  "view": {"stroke": "black", "strokeWidth": 2},
  "resolve": {"axis": {"x": "independent", "y": "independent"}},
  "layer": [
   {"data": {"name": "iv"}, "transform": [{"filter": "datum.seg != 'b'"}],
    "mark": {"type": "line", "interpolate": "monotone", "color": "black", "strokeWidth": 2.6},
    "encoding": {
     "x": {"field": "cur", "type": "quantitative", "scale": {"domain": [0.003, 1.0515], "reverse": true, "nice": false, "zero": false},
           "axis": {"orient": "bottom", "title": null, "values": [0.5, 1], "tickSize": -21, "tickWidth": 2, "labelAlign": "right", "labelBaseline": "alphabetic", "labelPadding": 24, "labelFontSize": 18, "labelExpr": "replace(format(datum.value, '.1~f'), '.', ',')"}},
     "y": {"field": "pot", "type": "quantitative", "scale": {"domain": [-0.926, -0.613], "nice": false, "zero": false},
           "axis": {"orient": "right", "title": null, "values": [-0.9, -0.8, -0.7], "tickSize": -18, "tickWidth": 2, "labelAlign": "center", "labelBaseline": "top", "labelPadding": 30, "labelFontSize": 22, "labelExpr": "replace(format(datum.value, '.1f'), '.', ',')"}},
     "detail": {"field": "seg"},
     "order": {"field": "i", "type": "quantitative"}}},
   {"data": {"name": "iv"}, "transform": [{"filter": "datum.seg == 'b'"}],
    "mark": {"type": "line", "interpolate": "monotone", "color": "black", "strokeWidth": 2.2, "strokeDash": [7, 6]},
    "encoding": {
     "x": {"field": "cur", "type": "quantitative", "scale": {"domain": [0.003, 1.0515], "reverse": true, "nice": false, "zero": false},
           "axis": {"orient": "top", "title": null, "values": [0.5, 1], "tickSize": -21, "tickWidth": 2, "labels": false}},
     "y": {"field": "pot", "type": "quantitative", "scale": {"domain": [-0.926, -0.613], "nice": false, "zero": false},
           "axis": {"orient": "left", "title": null, "values": [-0.9, -0.8, -0.7], "tickSize": -22, "tickWidth": 2, "labels": false}},
     "order": {"field": "i", "type": "quantitative"}}},
   {"data": {"name": "iv"}, "transform": [{"filter": "datum.k == 'dot'"}],
    "mark": {"type": "circle", "size": 110, "color": "#333333", "opacity": 1},
    "encoding": {
     "x": {"field": "cur", "type": "quantitative", "scale": {"domain": [0.003, 1.0515], "reverse": true, "nice": false, "zero": false}, "axis": null},
     "y": {"field": "pot", "type": "quantitative", "scale": {"domain": [-0.926, -0.613], "nice": false, "zero": false}, "axis": null}}},
   {"data": {"name": "iv"}, "transform": [{"filter": "datum.k == 'plus'"}],
    "mark": {"type": "point", "shape": "M-1,0L1,0M0,-1L0,1", "size": 170, "filled": false, "stroke": "black", "strokeWidth": 1.8, "opacity": 1},
    "encoding": {
     "x": {"field": "cur", "type": "quantitative", "scale": {"domain": [0.003, 1.0515], "reverse": true, "nice": false, "zero": false}, "axis": null},
     "y": {"field": "pot", "type": "quantitative", "scale": {"domain": [-0.926, -0.613], "nice": false, "zero": false}, "axis": null}}},
   {"data": {"name": "ivlab"}, "transform": [{"filter": "datum.role == 'pt'"}],
    "mark": {"type": "text", "angle": 270, "align": "left", "baseline": "middle", "fontSize": 26, "font": "DejaVu Sans", "color": "black"},
    "encoding": {
     "x": {"field": "cur", "type": "quantitative", "scale": {"domain": [0.003, 1.0515], "reverse": true, "nice": false, "zero": false}, "axis": null},
     "y": {"field": "pot", "type": "quantitative", "scale": {"domain": [-0.926, -0.613], "nice": false, "zero": false}, "axis": null},
     "text": {"field": "text"}}},
   {"data": {"name": "ivlab"}, "transform": [{"filter": "datum.role == 'ytitle'"}],
    "mark": {"type": "text", "angle": 270, "align": "center", "baseline": "middle", "fontSize": 27, "font": "DejaVu Sans Mono", "color": "black"},
    "encoding": {
     "x": {"field": "cur", "type": "quantitative", "scale": {"domain": [0.003, 1.0515], "reverse": true, "nice": false, "zero": false}, "axis": null},
     "y": {"field": "pot", "type": "quantitative", "scale": {"domain": [-0.926, -0.613], "nice": false, "zero": false}, "axis": null},
     "text": {"field": "text"}}},
   {"data": {"name": "ivlab"}, "transform": [{"filter": "datum.role == 'xtitle'"}],
    "mark": {"type": "text", "angle": 180, "align": "center", "baseline": "middle", "fontSize": 23, "font": "DejaVu Sans Mono", "color": "black"},
    "encoding": {
     "x": {"field": "cur", "type": "quantitative", "scale": {"domain": [0.003, 1.0515], "reverse": true, "nice": false, "zero": false}, "axis": null},
     "y": {"field": "pot", "type": "quantitative", "scale": {"domain": [-0.926, -0.613], "nice": false, "zero": false}, "axis": null},
     "text": {"field": "text"}}}
  ]}
]}
]
}
